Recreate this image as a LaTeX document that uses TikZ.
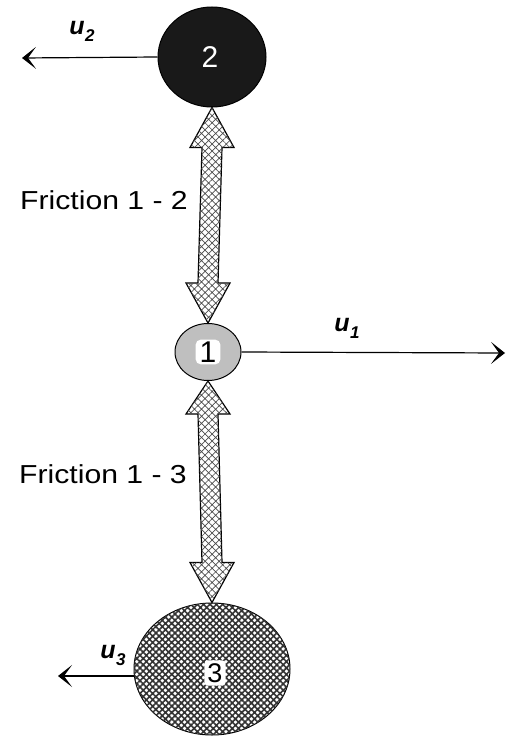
\documentclass[tikz,border=0pt]{standalone}
\usepackage{fontspec}
\setmainfont{Liberation Sans}
\usetikzlibrary{shapes.geometric,arrows.meta,patterns.meta}
\newcommand\drawfric[3]{%
  \draw[fric] (#1) -- ([xshift=22pt,yshift=-#3]#1) -- ([xshift=10pt,yshift=-#3]#1)
    -- ([xshift=10pt,yshift=40pt]#2) -- ([xshift=22pt,yshift=40pt]#2) -- (#2)
    -- ([xshift=-22pt,yshift=40pt]#2) -- ([xshift=-10pt,yshift=40pt]#2)
    -- ([xshift=-10pt,yshift=-#3]#1) -- ([xshift=-22pt,yshift=-#3]#1) -- cycle;}
\newcommand\ulab[1]{{\fontsize{25}{25}\selectfont\bfseries\itshape u\kern0.5pt\raisebox{-7pt}{\fontsize{17}{17}\selectfont #1}}}
\begin{document}
\begin{tikzpicture}[x=1pt,y=-1pt,
  mass/.style={ellipse,draw=black,line width=1pt,inner sep=0pt},
  digit/.style={font=\fontsize{30}{30}\selectfont},
  fric/.style={draw=black,line width=1.2pt,line join=miter,fill=white,
    postaction={pattern={Hatch[angle=45,distance=5pt,line width=0.7pt]},pattern color=black!70}},
  vel/.style={draw=black,line width=1.2pt,-{Stealth[length=14pt,width=22pt,inset=8pt]}},
  flab/.style={font=\fontsize{26}{26}\selectfont\addfontfeature{FakeStretch=1.16}}]
\useasboundingbox (0,0) rectangle (517,738);
\node[mass,fill=black!90,minimum width=108pt,minimum height=100pt] (n2) at (212,57) {};
\node[digit,text=white] (t2) at (210,57) {2};
\node[mass,fill=black!25,minimum width=66pt,minimum height=57pt] (n1) at (208,352) {};
\node[digit,fill=white,rounded corners=5pt,inner xsep=4pt,inner ysep=2pt] (t1) at (208,352) {1};
\node[mass,fill=white,minimum width=156pt,minimum height=132pt,
  postaction={pattern={Hatch[angle=45,distance=4.5pt,line width=1.6pt]},pattern color=black!80}] (n3) at (212,669) {};
\node[fill=white,inner sep=3pt,rounded corners=3pt,font=\fontsize{27}{27}\selectfont] (t3) at (215,673) {3};
\coordinate (e2) at (22,58);
\coordinate (e1) at (505,353);
\coordinate (e3) at (58,676);
\draw[vel] (n2.west) -- (e2);
\draw[vel] (n1.east) -- (e1);
\draw[vel] (n3.west |- e3) -- (e3);
\drawfric{n2.south}{n1.north}{40pt}
\drawfric{n1.south}{n3.north}{33pt}
\node[flab] (f12) at (104,200) {Friction 1 - 2};
\node[flab] (f13) at (103,474) {Friction 1 - 3};
\node (u2) at (82,31) {\ulab{2}};
\node (u1) at (347,328) {\ulab{1}};
\node (u3) at (113,655) {\ulab{3}};
\end{tikzpicture}
\end{document}
